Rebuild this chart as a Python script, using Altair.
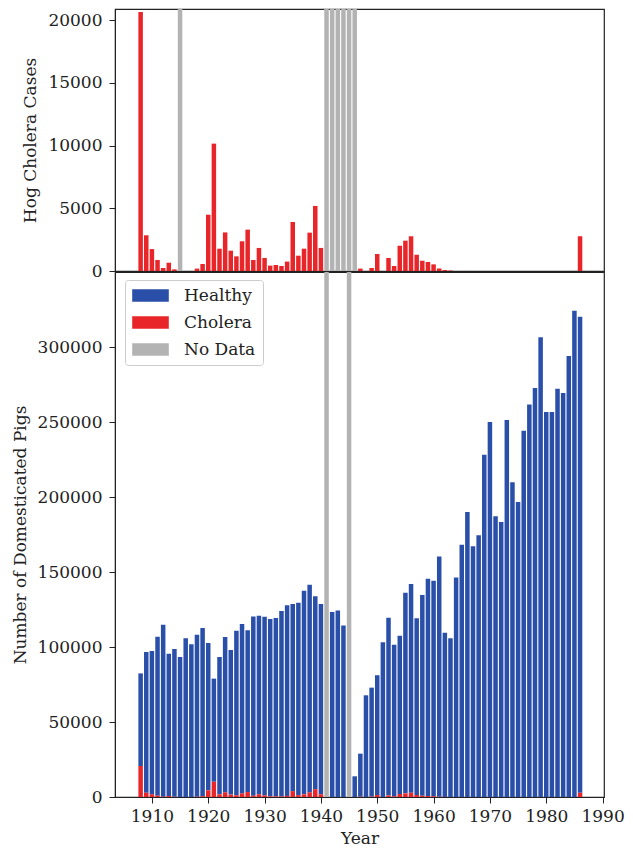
import altair as alt
import pandas as pd

years = list(range(1908, 1987))

# Hog cholera cases per year (None = no data)
cholera = [
    20660, 2850, 1750, 880, 240, 660, 130, None, 0, 0,          # 1908-1917
    190, 560, 4490, 10160, 1780, 3080, 1620, 1170, 2370, 3300,  # 1918-1927
    880, 1840, 1040, 430, 480, 400, 750, 3910, 1220, 1780,      # 1928-1937
    3060, 5190, 1840, None, None, None, None, None, None, 190,  # 1938-1947
    0, 240, 1360, 0, 1040, 400, 2020, 2420, 2770, 1300,         # 1948-1957
    820, 720, 530, 190, 80, 40, 0, 0, 0, 0,                     # 1958-1967
    0, 0, 0, 0, 0, 0, 0, 0, 0, 0,                               # 1968-1977
    0, 0, 0, 0, 0, 0, 0, 0, 2770,                               # 1978-1986
]

# Total number of domesticated pigs per year (None = no data)
pigs = [
    82400, 96700, 97300, 106900, 114900, 95500, 98700, 93300, 105800, 101800,      # 1908-1917
    108200, 112700, 102700, 78900, 93300, 106700, 98000, 110900, 115300, 111100,   # 1918-1927
    120400, 120900, 120200, 118700, 119300, 124000, 127800, 128700, 129500, 137500,  # 1928-1937
    141500, 133800, 128700, None, 123300, 124400, 114400, None, 13800, 28900,      # 1938-1947
    67800, 72900, 81100, 103100, 119500, 101500, 107500, 136200, 142000, 119100,   # 1948-1957
    134700, 145500, 144200, 160400, 109500, 105800, 146400, 168200, 190000, 167100,  # 1958-1967
    174500, 228200, 250000, 187100, 183400, 251400, 209800, 196700, 244200, 261600,  # 1968-1977
    272700, 306500, 256700, 256700, 272200, 269300, 294000, 324200, 320200,        # 1978-1986
]

status_names = ["Healthy", "Cholera", "No Data"]
status_colors = ["#2a4fa8", "#e8262a", "#b3b3b3"]

TOP_MAX = 20900
BOT_MAX = 350000

top_rows = []
for yr, c in zip(years, cholera):
    if c is None:
        top_rows.append({"year": yr, "status": "No Data", "lo": 0, "hi": TOP_MAX})
    elif c > 0:
        top_rows.append({"year": yr, "status": "Cholera", "lo": 0, "hi": c})
top_df = pd.DataFrame(top_rows)

bot_rows = []
for yr, p, c in zip(years, pigs, cholera):
    if p is None:
        bot_rows.append({"year": yr, "status": "No Data", "lo": 0, "hi": BOT_MAX})
        continue
    cc = c or 0
    bot_rows.append({"year": yr, "status": "Healthy", "lo": cc, "hi": p})
    if cc > 0:
        bot_rows.append({"year": yr, "status": "Cholera", "lo": 0, "hi": cc})
bot_df = pd.DataFrame(bot_rows)

FONT = "DejaVu Serif"
INK = "#222222"
W = 489

xscale = alt.Scale(domain=[1903.45, 1990.25], nice=False, zero=False)

top = (
    alt.Chart(top_df)
    .transform_calculate(x0="datum.year - 0.4", x1="datum.year + 0.4")
    .mark_bar()
    .encode(
        x=alt.X("x0:Q", scale=xscale, axis=None),
        x2="x1:Q",
        y=alt.Y(
            "hi:Q",
            scale=alt.Scale(domain=[0, TOP_MAX], nice=False),
            axis=alt.Axis(values=[0, 5000, 10000, 15000, 20000], format="d",
                          title="Hog Cholera Cases"),
        ),
        y2="lo:Q",
        color=alt.Color(
            "status:N",
            scale=alt.Scale(domain=status_names[1:], range=status_colors[1:]),
            legend=None,
        ),
    )
    .properties(width=W, height=262)
)

bottom = (
    alt.Chart(bot_df)
    .transform_calculate(x0="datum.year - 0.4", x1="datum.year + 0.4")
    .mark_bar()
    .encode(
        x=alt.X(
            "x0:Q",
            scale=xscale,
            axis=alt.Axis(values=list(range(1910, 1991, 10)), format="d", title="Year"),
        ),
        x2="x1:Q",
        y=alt.Y(
            "hi:Q",
            scale=alt.Scale(domain=[0, BOT_MAX], nice=False),
            axis=alt.Axis(values=list(range(0, 300001, 50000)), format="d",
                          title="Number of Domesticated Pigs"),
        ),
        y2="lo:Q",
        color=alt.Color(
            "status:N",
            scale=alt.Scale(domain=status_names, range=status_colors),
            legend=alt.Legend(
                title=None,
                orient="none",
                legendX=10,
                legendY=8,
                symbolType="M-1,-0.34H1V0.34H-1Z",
                symbolSize=1340,
                symbolStrokeWidth=0,
                labelFont=FONT,
                labelFontSize=17,
                labelColor=INK,
                labelOffset=15,
                rowPadding=9,
                padding=7,
                fillColor="white",
                strokeColor="#cccccc",
                cornerRadius=3,
                clipHeight=17,
            ),
        ),
    )
    .properties(width=W, height=525)
)

chart = (
    alt.vconcat(top, bottom, spacing=1, bounds="flush")
    .resolve_scale(color="independent", y="independent")
    .properties(padding={"left": 2, "top": 0, "right": 0, "bottom": 0})
    .configure_view(stroke=INK, strokeWidth=1.2)
    .configure_axis(
        labelFont=FONT,
        titleFont=FONT,
        labelFontSize=17,
        titleFontSize=17,
        titleFontWeight="normal",
        labelColor=INK,
        titleColor=INK,
        domainColor=INK,
        tickColor=INK,
        tickSize=6,
        grid=False,
    )
    .configure_axisY(labelPadding=7, titlePadding=8)
    .configure_axisX(labelPadding=5, titlePadding=6)
)

chart.save("out.html", embed_options={"renderer": "svg", "actions": False})
